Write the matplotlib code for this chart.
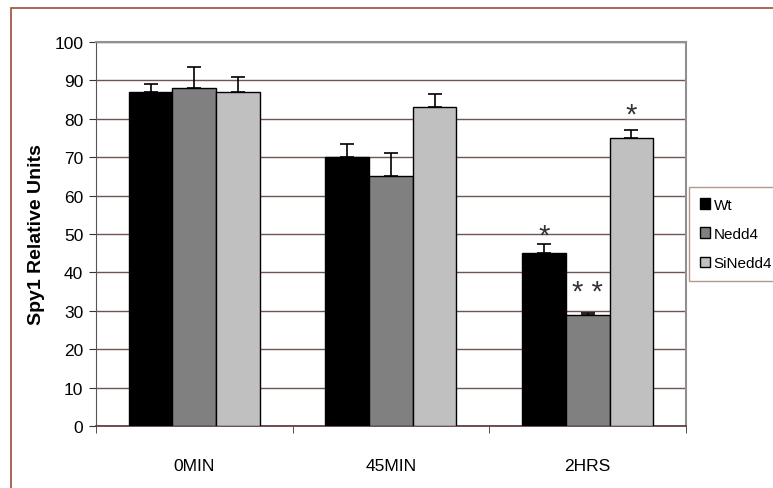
import numpy as np
import matplotlib.pyplot as plt
from matplotlib.patches import Rectangle

plt.rcParams['font.family'] = ['Liberation Sans', 'DejaVu Sans']

# data
groups = ['0MIN', '45MIN', '2HRS']
series = ['Wt', 'Nedd4', 'SiNedd4']
wt = [87, 70, 45]
nedd4 = [88, 65, 29]
sinedd4 = [87, 83, 75]
wt_err = [2, 3.5, 2.5]
nedd4_err = [5.5, 6, 0.5]
sinedd4_err = [4, 3.5, 2]
# significance marks: (group, series, text, height)
stars = [(2, 0, '*', 49.5), (2, 1, '* *', 35), (2, 2, '*', 81)]

colors = ['#000000', '#808080', '#c0c0c0']
grid_c = '#6e5550'

fig = plt.figure(figsize=(7.73, 4.89), dpi=100)
ax = fig.add_axes([0.124, 0.127, 0.7635, 0.785])

x = np.arange(len(groups))
w = 0.222
vals = [wt, nedd4, sinedd4]
errs = [wt_err, nedd4_err, sinedd4_err]
for i, (v, e) in enumerate(zip(vals, errs)):
    pos = x + (i - 1) * w
    ax.bar(pos, v, w, color=colors[i], edgecolor='black', linewidth=1,
           label=series[i], zorder=3)
    ax.errorbar(pos, v, yerr=[np.zeros(len(e)), e], fmt='none',
                ecolor='black', elinewidth=1.2, capsize=5, capthick=1.2, zorder=4)

for g, s, txt, h in stars:
    ax.text(g + (s - 1) * w, h, txt, ha='center', va='center',
            fontsize=21, color='#333333', zorder=5)

ax.set_xlim(-0.5, 2.5)
ax.set_ylim(0, 100)
ax.set_yticks(range(0, 101, 10))
ax.yaxis.grid(True, color=grid_c, linewidth=1)
ax.set_axisbelow(True)

ax.set_xticks([-0.5, 0.5, 1.5, 2.5], minor=True)
ax.set_xticks(x)
ax.set_xticklabels(groups, fontsize=12.5)
ax.tick_params(axis='x', which='major', length=0, pad=23)
ax.tick_params(axis='x', which='minor', length=5, color='#333333')
ax.tick_params(axis='y', labelsize=12.5, length=5, color='#333333', pad=4)

for sp in ['top', 'right']:
    ax.spines[sp].set_color('#909090')
    ax.spines[sp].set_linewidth(1.5)
ax.spines['left'].set_color('#555555')
ax.spines['bottom'].set_color('#553333')
ax.spines['bottom'].set_linewidth(1.2)

ax.set_ylabel('Spy1 Relative Units', fontsize=14, fontweight='bold', labelpad=7)

leg = ax.legend(loc='center left', bbox_to_anchor=(1.0, 0.5), frameon=True,
                fancybox=False, fontsize=11, handlelength=0.7, handleheight=0.7,
                handletextpad=0.2, labelspacing=1.0, borderpad=0.7,
                borderaxespad=0.2)
leg.get_frame().set_edgecolor('#a08070')
leg.get_frame().set_linewidth(1)

# outer chart border
fig.patches.append(Rectangle((11 / 773, -0.1), 1.2, 1.1 - 9 / 489,
                             transform=fig.transFigure, fill=False,
                             edgecolor='#a04a38', linewidth=1.2))

fig.savefig('out.png', dpi=100)
